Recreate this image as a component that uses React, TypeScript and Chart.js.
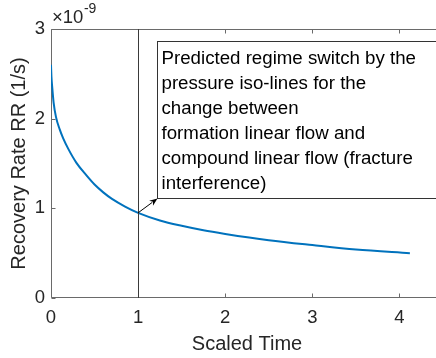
import React, { useEffect, useRef } from "react";
import { Chart, registerables } from "chart.js";

Chart.register(...registerables);

// ---- data (recovery rate in units of 10^-9 1/s) ----
const scaledTime = [0, 0.005, 0.015, 0.03, 0.057, 0.1, 0.14, 0.2, 0.29, 0.4, 0.5, 0.6, 0.7, 0.85, 1.0, 1.25, 1.5, 1.75, 2.0, 2.5, 3.0, 3.5, 4.12];
const recoveryRate = [2.6, 2.47, 2.34, 2.18, 2.02, 1.88, 1.78, 1.66, 1.51, 1.375, 1.265, 1.178, 1.105, 1.02, 0.95, 0.865, 0.805, 0.755, 0.715, 0.645, 0.59, 0.54, 0.5];
const rateExponent = "-9";
const xTicks = [0, 1, 2, 3, 4];
const yTicks = [0, 1, 2, 3];
const xRange = [0, 4.5];
const yRange = [0, 3];
const switchTime = 1;
const annotationLines = [
  "Predicted regime switch by the",
  "pressure iso-lines for the",
  "change between",
  "formation linear flow and",
  "compound linear flow (fracture",
  "interference)",
];
// annotation box anchor in data coordinates
const annotationLeft = 1.216;
const annotationTop = 2.865;
const annotationBottom = 1.115;

const FONT = "'Liberation Sans', Arial, Helvetica, sans-serif";
const AXIS_COLOR = "#6a6a6a";
const TEXT_COLOR = "#262626";

const matlabPlugin = {
  id: "matlabLook",
  beforeDatasetsDraw(chart: any) {
    const { ctx, chartArea } = chart;
    const { left, right, top, bottom } = chartArea;
    const xs = chart.scales.x;
    const ys = chart.scales.y;
    ctx.save();
    ctx.strokeStyle = AXIS_COLOR;
    ctx.lineWidth = 1;
    ctx.beginPath();
    const L = Math.round(left) + 0.5;
    const R = Math.round(right) - 0.5;
    const T = Math.round(top) + 0.5;
    const B = Math.round(bottom) - 0.5;
    ctx.moveTo(L, T);
    ctx.lineTo(R, T);
    ctx.lineTo(R, B);
    ctx.lineTo(L, B);
    ctx.closePath();
    const tl = 4;
    xTicks.forEach((v) => {
      const px = Math.round(xs.getPixelForValue(v)) + 0.5;
      ctx.moveTo(px, B);
      ctx.lineTo(px, B - tl);
      ctx.moveTo(px, T);
      ctx.lineTo(px, T + tl);
    });
    yTicks.forEach((v) => {
      const py = Math.round(ys.getPixelForValue(v)) + 0.5;
      ctx.moveTo(L, py);
      ctx.lineTo(L + tl, py);
      ctx.moveTo(R, py);
      ctx.lineTo(R - tl, py);
    });
    ctx.stroke();
    ctx.restore();
  },
  afterDatasetsDraw(chart: any) {
    const { ctx, chartArea } = chart;
    const xs = chart.scales.x;
    const ys = chart.scales.y;
    ctx.save();
    // vertical switch line
    const sx = Math.round(xs.getPixelForValue(switchTime)) + 0.5;
    ctx.strokeStyle = "#3a3a3a";
    ctx.lineWidth = 1;
    ctx.beginPath();
    ctx.moveTo(sx, chartArea.top);
    ctx.lineTo(sx, chartArea.bottom);
    ctx.stroke();

    // annotation box
    const bx = Math.round(xs.getPixelForValue(annotationLeft)) + 0.5;
    const by = Math.round(ys.getPixelForValue(annotationTop)) + 0.5;
    const bb = Math.round(ys.getPixelForValue(annotationBottom)) + 0.5;
    const br = chart.width + 5;
    ctx.fillStyle = "#ffffff";
    ctx.fillRect(bx, by, br - bx, bb - by);
    ctx.strokeStyle = "#333333";
    ctx.strokeRect(bx, by, br - bx, bb - by);
    ctx.fillStyle = "#000000";
    ctx.font = `18.7px ${FONT}`;
    ctx.textBaseline = "middle";
    ctx.textAlign = "left";
    annotationLines.forEach((line, i) => {
      ctx.fillText(line, bx + 4, by + 17 + i * 25);
    });

    // arrow from curve point at switch time to box corner
    const idx = scaledTime.indexOf(switchTime);
    const tx = xs.getPixelForValue(switchTime);
    const ty = ys.getPixelForValue(recoveryRate[idx]);
    const hx = bx;
    const hy = bb;
    const ang = Math.atan2(hy - ty, hx - tx);
    const ah = 8;
    const aw = 3.2;
    ctx.strokeStyle = "#000000";
    ctx.lineWidth = 1;
    ctx.beginPath();
    ctx.moveTo(tx, ty);
    ctx.lineTo(hx - Math.cos(ang) * ah * 0.8, hy - Math.sin(ang) * ah * 0.8);
    ctx.stroke();
    ctx.beginPath();
    ctx.moveTo(hx, hy);
    ctx.lineTo(hx - Math.cos(ang) * ah - Math.sin(ang) * aw, hy - Math.sin(ang) * ah + Math.cos(ang) * aw);
    ctx.lineTo(hx - Math.cos(ang) * ah * 0.7, hy - Math.sin(ang) * ah * 0.7);
    ctx.lineTo(hx - Math.cos(ang) * ah + Math.sin(ang) * aw, hy - Math.sin(ang) * ah - Math.cos(ang) * aw);
    ctx.closePath();
    ctx.fillStyle = "#000000";
    ctx.fill();

    // exponent label
    ctx.fillStyle = TEXT_COLOR;
    ctx.textBaseline = "alphabetic";
    ctx.font = `18.5px ${FONT}`;
    const ex = chartArea.left + 1;
    const ey = chartArea.top - 6;
    const base = "\u00d710";
    ctx.fillText(base, ex, ey);
    const w = ctx.measureText(base).width;
    ctx.font = `14px ${FONT}`;
    ctx.fillText(rateExponent, ex + w + 0.5, ey - 10);
    ctx.restore();
  },
};

export default function App() {
  const canvasRef = useRef<HTMLCanvasElement | null>(null);

  useEffect(() => {
    if (!canvasRef.current) return;
    Chart.defaults.font.family = FONT;
    const points = scaledTime.map((t, i) => ({ x: t, y: recoveryRate[i] }));
    const chart = new Chart(canvasRef.current, {
      type: "line",
      data: {
        datasets: [
          {
            data: points,
            borderColor: "#0072BD",
            borderWidth: 2,
            pointRadius: 0,
            fill: false,
            cubicInterpolationMode: "monotone",
          },
        ],
      },
      options: {
        responsive: false,
        animation: false,
        devicePixelRatio: 1,
        layout: { padding: { top: 29, right: 7, left: 0, bottom: 0 } },
        plugins: { legend: { display: false }, tooltip: { enabled: false } },
        scales: {
          x: {
            type: "linear",
            min: xRange[0],
            max: xRange[1],
            grid: { display: false, drawTicks: false },
            border: { display: false },
            afterBuildTicks: (s: any) => {
              s.ticks = xTicks.map((v) => ({ value: v }));
            },
            afterFit: (s: any) => {
              s.height = 60;
            },
            ticks: {
              color: TEXT_COLOR,
              font: { size: 18.5 },
              padding: 9,
              maxRotation: 0,
              callback: (v: any) => String(v),
            },
            title: {
              display: true,
              text: "Scaled Time",
              color: TEXT_COLOR,
              font: { size: 20 },
              padding: { top: 0, bottom: 2 },
            },
          },
          y: {
            type: "linear",
            min: yRange[0],
            max: yRange[1],
            grid: { display: false, drawTicks: false },
            border: { display: false },
            afterBuildTicks: (s: any) => {
              s.ticks = yTicks.map((v) => ({ value: v }));
            },
            afterFit: (s: any) => {
              s.width = 51;
            },
            ticks: {
              color: TEXT_COLOR,
              font: { size: 18.5 },
              padding: 6,
              callback: (v: any) => String(v),
            },
            title: {
              display: true,
              text: "Recovery Rate RR (1/s)",
              color: TEXT_COLOR,
              font: { size: 20 },
              padding: { top: 7.5, bottom: 0 },
            },
          },
        },
      },
      plugins: [matlabPlugin],
    });
    return () => chart.destroy();
  }, []);

  return (
    <div
      style={{
        position: "fixed",
        left: 0,
        top: 0,
        width: 436,
        height: 358,
        overflow: "hidden",
        background: "#ffffff",
      }}
    >
      <canvas ref={canvasRef} width={450} height={358} style={{ width: 450, height: 358, display: "block" }} />
    </div>
  );
}
